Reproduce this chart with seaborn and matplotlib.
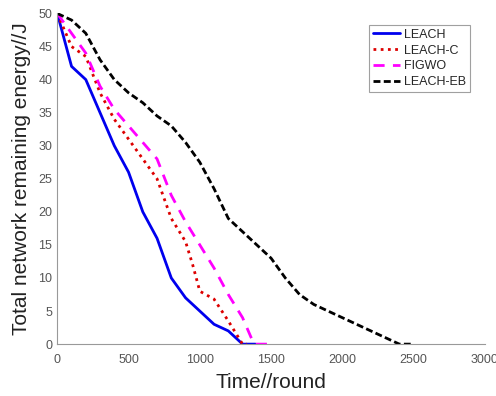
import numpy as np
import pandas as pd
import seaborn as sns
import matplotlib.pyplot as plt

# energy curves
leach_x = [0, 100, 200, 300, 400, 500, 600, 700, 800, 900, 1000, 1100, 1200, 1300, 1390]
leach_y = [50, 42, 40, 35, 30, 26, 20, 16, 10, 7, 5, 3, 2, 0, 0]

leachc_x = [0, 100, 200, 300, 400, 500, 600, 700, 750, 800, 900, 950, 1000, 1100, 1200, 1300, 1330]
leachc_y = [50, 45, 43.5, 38, 34, 31, 28, 25, 22, 19, 15.5, 12, 8, 6.8, 3.5, 0, 0]

figwo_x = [0, 100, 200, 300, 400, 500, 600, 700, 800, 900, 1000, 1100, 1200, 1300, 1380, 1490]
figwo_y = [50, 47, 44, 39, 35.5, 33, 30.5, 28, 22.5, 18.5, 15, 11.5, 7.5, 4, 0, 0]

leacheb_x = [0, 100, 200, 300, 400, 500, 600, 700, 800, 900, 1000, 1100, 1200, 1300, 1400, 1500,
             1600, 1700, 1800, 1900, 2000, 2100, 2200, 2300, 2400, 2480]
leacheb_y = [50, 49, 47, 43, 40, 38, 36.5, 34.5, 33, 30.5, 27.5, 23.5, 19, 17, 15, 13,
             10, 7.5, 6, 5, 4, 3, 2, 1, 0, 0]

names = ["LEACH", "LEACH-C", "FIGWO", "LEACH-EB"]
colors = ["#0000ee", "#dd0000", "#ff00ff", "#000000"]

sns.set_style("white")
plt.rcParams['font.family'] = ['Liberation Sans', 'DejaVu Sans']

fig = plt.figure(figsize=(4.96, 3.96), dpi=100)
ax = fig.add_axes([0.1155, 0.131, 0.862, 0.835])

series = [(leach_x, leach_y), (leachc_x, leachc_y), (figwo_x, figwo_y), (leacheb_x, leacheb_y)]
styles = [dict(linestyle='-'), dict(linestyle=(0, (1, 1.6))), dict(linestyle=(0, (4, 3))),
          dict(linestyle=(0, (2.5, 1.2)))]
for (x, y), nm, c, st in zip(series, names, colors, styles):
    sns.lineplot(x=x, y=y, ax=ax, color=c, lw=2, label=nm, **st)

ax.set_xlim(0, 3000)
ax.set_ylim(0, 50)
ax.set_xticks(range(0, 3001, 500))
ax.set_yticks(range(0, 51, 5))
for s in ['top', 'right']:
    ax.spines[s].set_visible(False)
for s in ['left', 'bottom']:
    ax.spines[s].set_color('#999999')
    ax.spines[s].set_linewidth(0.8)
ax.tick_params(direction='in', length=3, color='#999999', labelcolor='#555555', labelsize=9)
ax.tick_params(axis='x', pad=7)
ax.set_xlabel("Time//round", fontsize=15, color='#222222', labelpad=5)
ax.set_ylabel("Total network remaining energy//J", fontsize=15, color='#222222', labelpad=5)

leg = ax.legend(loc='upper right', bbox_to_anchor=(0.965, 0.965), fontsize=9, frameon=True,
                fancybox=False, handlelength=2.2, handletextpad=0.3, borderpad=0.3,
                labelspacing=0.3, borderaxespad=0)
leg.get_frame().set_edgecolor('#888888')
leg.get_frame().set_linewidth(0.8)

fig.savefig("out.png", dpi=100)
